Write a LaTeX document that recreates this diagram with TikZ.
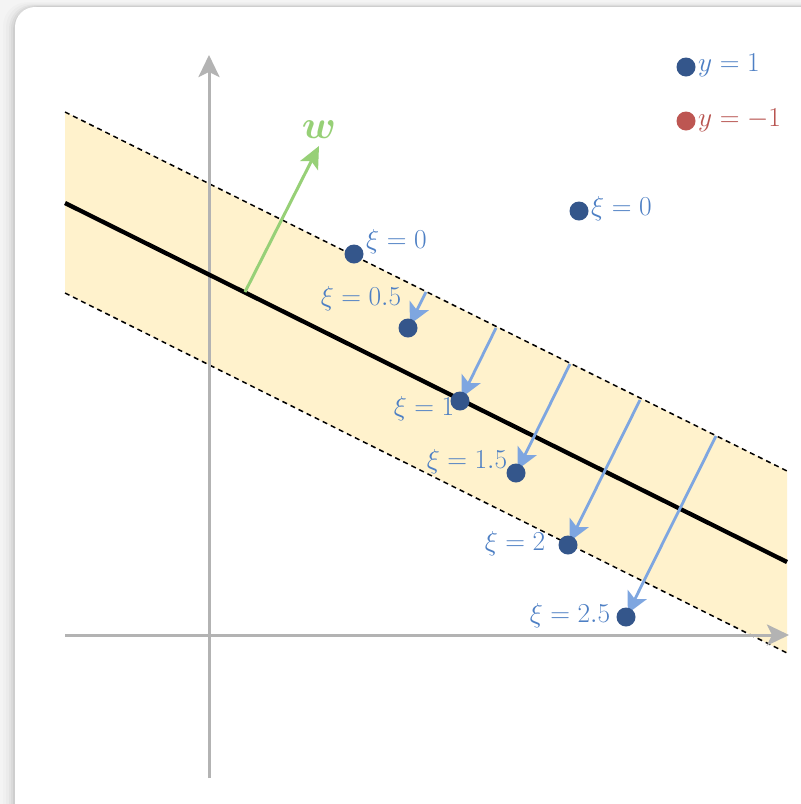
\documentclass[tikz,border=0pt]{standalone}
\usepackage{graphicx}
\usepackage{amsmath,bm}
\usetikzlibrary{arrows.meta,calc}
\definecolor{bgray}{HTML}{F4F4F4}
\definecolor{axisgray}{HTML}{B3B3B3}
\definecolor{band}{HTML}{FFF2CC}
\definecolor{dotblue}{HTML}{34568B}
\definecolor{dotred}{HTML}{BD5652}
\definecolor{txtblue}{HTML}{4D7FC4}
\definecolor{txtred}{HTML}{B85450}
\definecolor{arrblue}{HTML}{7EA6E0}
\definecolor{wgreen}{HTML}{97D077}
\newcommand{\mylab}[1]{\scalebox{1.1}{$#1$}}
\tikzset{
  pt/.style={circle,fill=dotblue,inner sep=0pt,minimum size=19pt},
  ptred/.style={circle,fill=dotred,inner sep=0pt,minimum size=19pt},
  lbl/.style={text=txtblue,inner sep=0pt,font=\Huge},
  lblred/.style={text=txtred,inner sep=0pt,font=\Huge},
  axis/.style={draw=axisgray,line width=3pt,-{Stealth[length=22pt,width=21pt,inset=5pt]}},
  slack/.style={draw=arrblue,line width=2.8pt,-{Stealth[length=21pt,width=21pt,inset=5pt]},shorten >=4pt},
  margin/.style={draw=black,line width=1.5pt,dash pattern=on 5pt off 4pt},
}
\begin{document}
\begin{tikzpicture}[x=1pt,y=-1pt]
\useasboundingbox (0,0) rectangle (801,804);
% background and card
\fill[bgray] (0,0) rectangle (801,804);
\foreach \o/\op in {12/0.015,9/0.02,6/0.03,4/0.04,2/0.05}{
  \fill[black,opacity=\op,rounded corners=24pt] (15-\o,7-\o*0.4) rectangle (830,840);
}
\fill[white,rounded corners=20pt] (15,7) rectangle (830,840);
% band
\fill[band] (65,112) -- (787,471) -- (787,653) -- (65,293) -- cycle;
\draw[margin] (65,112) -- (787,471);
\draw[margin] (65,293) -- (787,653);
% axes
\coordinate (xs) at (65,635); \coordinate (xe) at (789,635);
\coordinate (ys) at (209,778); \coordinate (ye) at (209,55);
\draw[axis] (xs) -- (xe);
\draw[axis] (ys) -- (ye);
% hyperplane
\coordinate (hs) at (65,203); \coordinate (he) at (787,562);
\draw[black,line width=4.3pt] (hs) -- (he);
% w
\coordinate (w0) at (245,292); \coordinate (w1) at (319,146);
\draw[wgreen,line width=3pt,-{Stealth[length=22pt,width=20pt,inset=5pt]}] (w0) -- (w1);
\node[text=wgreen,inner sep=0pt,font=\Huge] (wl) at (319,130) {\scalebox{1.6}{$\bm{w}$}};
% point positions
\coordinate (c05) at (408,328);
\coordinate (c1) at (460,401);
\coordinate (c15) at (516,473);
\coordinate (c2) at (568,545);
\coordinate (c25) at (626,617);
% slack arrows
\coordinate (s05) at (426,292);
\coordinate (s1) at (496,328);
\coordinate (s15) at (570,364);
\coordinate (s2) at (640,400);
\coordinate (s25) at (716,436);
\draw[slack] (s05) -- (c05);
\draw[slack] (s1) -- (c1);
\draw[slack] (s15) -- (c15);
\draw[slack] (s2) -- (c2);
\draw[slack] (s25) -- (c25);
% points
\node[pt] (pa) at (354,254) {};
\node[pt] (pb) at (579,211) {};
\node[pt] (p05) at (c05) {};
\node[pt] (p1) at (c1) {};
\node[pt] (p15) at (c15) {};
\node[pt] (p2) at (c2) {};
\node[pt] (p25) at (c25) {};
% labels
\node[lbl,anchor=west] (la) at (366,242) {\mylab{\xi=0}};
\node[lbl,anchor=west] (lb) at (591,209) {\mylab{\xi=0}};
\node[lbl] (l05) at (361,299) {\mylab{\xi=0.5}};
\node[lbl] (l1) at (424,409) {\mylab{\xi=1}};
\node[lbl] (l15) at (467,462) {\mylab{\xi=1.5}};
\node[lbl] (l2) at (515,544) {\mylab{\xi=2}};
\node[lbl] (l25) at (570,616) {\mylab{\xi=2.5}};
% legend
\node[pt] (g1) at (686,67) {};
\node[ptred] (g2) at (686,121) {};
\node[lbl,anchor=west] (gl1) at (698,65) {\mylab{y=1}};
\node[lblred,anchor=west] (gl2) at (698,120) {\mylab{y=-1}};
\end{tikzpicture}
\end{document}
